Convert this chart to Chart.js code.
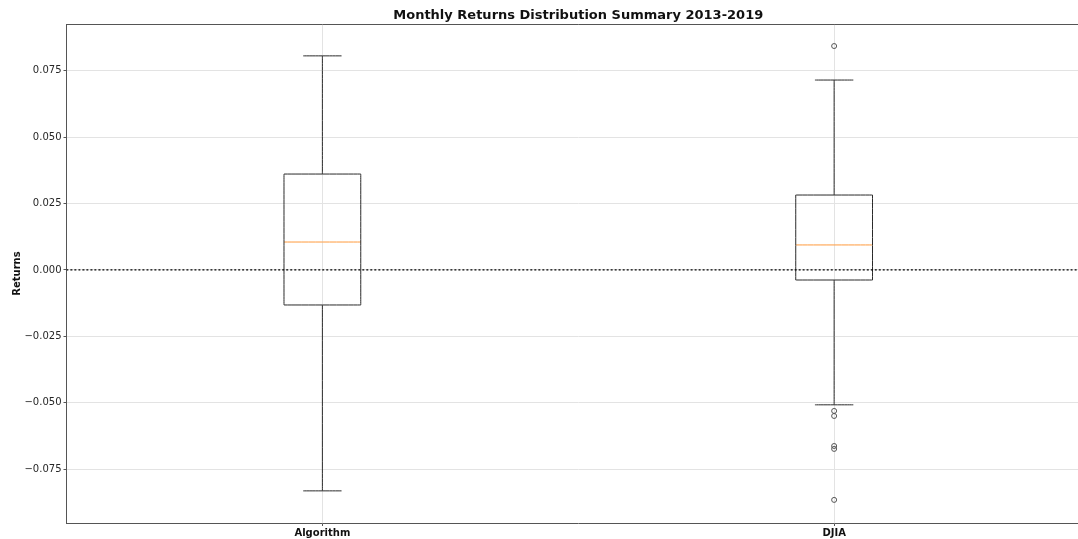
<!DOCTYPE html>
<html>
<head>
<meta charset="utf-8">
<script src="https://cdn.jsdelivr.net/npm/chart.js@4/dist/chart.umd.min.js"></script>
<style>
  html, body { margin: 0; padding: 0; background: #fff; overflow: hidden; }
  #wrap { width: 1156px; height: 539px; }
</style>
</head>
<body>
<div id="wrap"><canvas id="grafico" width="1156" height="539"></canvas></div>
<script>
// Resumen de retornos mensuales (cuartiles y atípicos)
const categorias = ['Algorithm', 'DJIA'];
const posiciones = [1, 2];
const bigoteInf = [-0.0832, -0.0508];
const q1 = [-0.0132, -0.0038];
const mediana = [0.0105, 0.0094];
const q3 = [0.0361, 0.0282];
const bigoteSup = [0.0806, 0.0715];
const atipicos = [[], [0.0843, -0.0531, -0.0550, -0.0663, -0.0674, -0.0866]];
const ticksY = [-0.075, -0.05, -0.025, 0, 0.025, 0.05, 0.075];

const ancho = 0.075;   // mitad del ancho de la caja
const tapa = 0.0375;   // mitad del ancho de los topes
const negro = '#2a2a2a';

function linea(puntos, color, extra) {
    return Object.assign({
        data: puntos,
        showLine: true,
        borderColor: color,
        borderWidth: 1,
        tension: 0.000001,   // evita el trazado rápido que redondea x
        pointRadius: 0,
        pointHoverRadius: 0,
        fill: false
    }, extra || {});
}

let datasets = [];
// línea de cero punteada
datasets.push(linea([{ x: 0.5, y: 0 }, { x: 2.5, y: 0 }], '#000', { borderDash: [2, 2], borderWidth: 1.2 }));

posiciones.forEach(function (p, i) {
    // caja
    datasets.push(linea([
        { x: p - ancho, y: q1[i] }, { x: p + ancho, y: q1[i] },
        { x: p + ancho, y: q3[i] }, { x: p - ancho, y: q3[i] },
        { x: p - ancho, y: q1[i] }
    ], negro));
    // bigotes
    datasets.push(linea([{ x: p, y: q3[i] }, { x: p, y: bigoteSup[i] }], negro));
    datasets.push(linea([{ x: p, y: q1[i] }, { x: p, y: bigoteInf[i] }], negro));
    // topes
    datasets.push(linea([{ x: p - tapa, y: bigoteSup[i] }, { x: p + tapa, y: bigoteSup[i] }], negro));
    datasets.push(linea([{ x: p - tapa, y: bigoteInf[i] }, { x: p + tapa, y: bigoteInf[i] }], negro));
    // mediana
    datasets.push(linea([{ x: p - ancho, y: mediana[i] }, { x: p + ancho, y: mediana[i] }], '#ff9a3c'));
    // atípicos
    if (atipicos[i].length) {
        datasets.push({
            data: atipicos[i].map(function (v) { return { x: p, y: v }; }),
            showLine: false,
            pointStyle: 'circle',
            pointRadius: 2.5,
            pointBorderColor: '#555',
            pointBackgroundColor: 'rgba(0,0,0,0)',
            pointBorderWidth: 1
        });
    }
});

// marco superior del área del gráfico
const marco = {
    id: 'marco',
    afterDraw: function (chart) {
        const a = chart.chartArea, ctx = chart.ctx;
        ctx.save();
        ctx.strokeStyle = '#555';
        ctx.lineWidth = 1;
        ctx.beginPath();
        ctx.moveTo(a.left, Math.round(a.top) + 0.5);
        ctx.lineTo(a.right, Math.round(a.top) + 0.5);
        ctx.stroke();
        ctx.restore();
    }
};

Chart.defaults.font.family = 'DejaVu Sans';
Chart.defaults.color = '#262626';

let ctx = document.getElementById('grafico').getContext('2d');
new Chart(ctx, {
    type: 'scatter',
    data: { datasets: datasets },
    plugins: [marco],
    options: {
        responsive: false,
        animation: false,
        events: [],
        layout: { padding: { left: 0, right: 66, top: 0, bottom: 0 } },
        plugins: {
            legend: { display: false },
            tooltip: { enabled: false },
            title: {
                display: true,
                fullSize: false,
                text: 'Monthly Returns Distribution Summary 2013-2019',
                font: { size: 13, weight: 'bold' },
                color: '#111',
                padding: { top: 8, bottom: 0.4 }
            }
        },
        scales: {
            x: {
                type: 'linear',
                min: 0.5,
                max: 2.5,
                afterBuildTicks: function (scale) {
                    scale.ticks = posiciones.map(function (v) { return { value: v }; });
                },
                afterFit: function (scale) { scale.height = 16; },
                ticks: {
                    font: { size: 10, weight: 'bold' },
                    color: '#111',
                    padding: 1,
                    maxRotation: 0,
                    callback: function (v) { return categorias[posiciones.indexOf(v)]; }
                },
                grid: { color: '#e3e3e3', tickLength: 3, tickColor: '#555' },
                border: { color: '#555', width: 1 }
            },
            y: {
                type: 'linear',
                min: -0.0953,
                max: 0.0926,
                afterBuildTicks: function (scale) {
                    scale.ticks = ticksY.map(function (v) { return { value: v }; });
                },
                afterFit: function (scale) { scale.width = 66.5; },
                ticks: {
                    font: { size: 10 },
                    padding: 2,
                    callback: function (v) {
                        let s = Math.abs(v).toFixed(3);
                        return v < 0 ? '\u2212' + s : s;
                    }
                },
                grid: { color: '#e3e3e3', tickLength: 3, tickColor: '#555' },
                border: { color: '#555', width: 1 },
                title: {
                    display: true,
                    text: 'Returns',
                    font: { size: 10, weight: 'bold' },
                    color: '#111',
                    padding: { top: 11, bottom: 0 }
                }
            }
        }
    }
});
</script>
</body>
</html>
